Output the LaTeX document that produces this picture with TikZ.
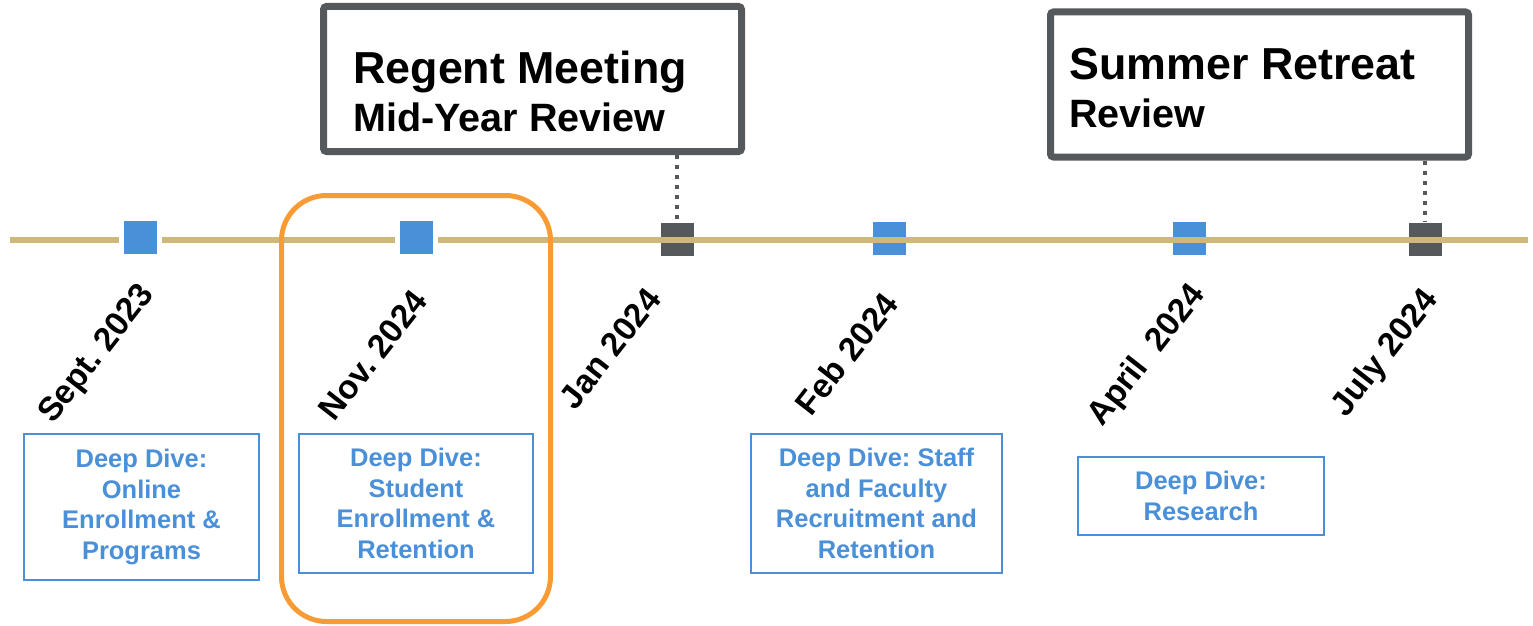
\documentclass[tikz,border=0pt]{standalone}
\usepackage{fontspec}
\setmainfont{Liberation Sans}
\usepackage{tikz}
\definecolor{tlgold}{HTML}{CFB87C}
\definecolor{ddblue}{HTML}{4A90D9}
\definecolor{revgray}{HTML}{55595C}
\definecolor{focusorange}{HTML}{F99B34}
\frenchspacing

\begin{document}
\begin{tikzpicture}
  \useasboundingbox (0,0) rectangle (30.66,-12.5);
  \begin{scope}[every node/.style={inner sep=0pt,minimum size=0.66cm}]
  \node[fill=revgray] (jan) at (13.54,-4.78) {};
  \node[fill=ddblue] (feb) at (17.78,-4.77) {};
  \node[fill=ddblue] (apr) at (23.78,-4.77) {};
  \node[fill=revgray] (jul) at (28.5,-4.78) {};
  \end{scope}
  \coordinate (tlstart) at (0.2,-4.8);
  \coordinate (tlend) at (30.56,-4.8);
  \draw[tlgold,line width=0.12cm] (tlstart) -- (tlend);
  \begin{scope}[every node/.style={inner sep=0pt,minimum size=0.76cm,fill=ddblue,draw=white,line width=0.1cm}]
  \node (sept) at (2.8,-4.75) {};
  \node (nov) at (8.32,-4.75) {};
  \end{scope}
  \node[draw=focusorange,line width=0.1cm,rounded corners=0.9cm,minimum width=5.38cm,minimum height=8.52cm] (focus) at (8.32,-8.17) {};
  \begin{scope}[every node/.style={draw=revgray,line width=0.14cm,rounded corners=0.06cm,minimum width=8.36cm,minimum height=2.9cm}]
  \node (regent) at (10.65,-1.58) {};
  \node (summer) at (25.19,-1.69) {};
  \end{scope}
  \begin{scope}[every node/.style={anchor=north west,inner sep=0pt,align=left,font=\fontsize{25.5}{27}\selectfont\bfseries}]
  \node (regenttxt) at (7.06,-1.02) {Regent Meeting\\\fontsize{22.5}{27}\selectfont Mid-Year Review};
  \node (summertxt) at (21.38,-0.96) {Summer Retreat\\\fontsize{22.5}{27}\selectfont Review};
  \end{scope}
  \draw[revgray,line width=0.09cm,dash pattern=on 0.08cm off 0.12cm] (jan.north |- regent.south) -- (jan.north);
  \draw[revgray,line width=0.09cm,dash pattern=on 0.08cm off 0.12cm] (jul.north |- summer.south) -- (jul.north);
  \begin{scope}[every node/.style={rotate=52,inner sep=0pt,font=\fontsize{19}{20}\selectfont\bfseries}]
  \node (septlbl) at (1.95,-7.09) {Sept. 2023};
  \node (novlbl) at (7.46,-7.1) {Nov. 2024};
  \node (janlbl) at (12.2,-6.97) {Jan 2024};
  \node (feblbl) at (16.93,-7.07) {Feb 2024};
  \node (aprlbl) at (22.95,-7.12) {April\ \ 2024};
  \node (jullbl) at (27.72,-7.08) {July 2024};
  \end{scope}
  \begin{scope}[every node/.style={draw=ddblue,line width=0.03cm,text=ddblue,align=center,inner sep=0pt,font=\fontsize{14.5}{17.5}\selectfont\bfseries}]
  \node[minimum width=4.7cm,minimum height=2.92cm] (ddonline) at (2.83,-10.14)
       {Deep Dive:\\Online\\Enrollment \&\\Programs};
  \node[minimum width=4.68cm,minimum height=2.78cm] (ddstudent) at (8.32,-10.07)
       {Deep Dive:\\Student\\Enrollment \&\\Retention};
  \node[minimum width=5.02cm,minimum height=2.78cm] (ddstaff) at (17.53,-10.07)
       {Deep Dive: Staff\\and Faculty\\Recruitment and\\Retention};
  \node[minimum width=4.92cm,minimum height=1.56cm] (ddresearch) at (24.02,-9.92)
       {Deep Dive:\\Research};
  \end{scope}
\end{tikzpicture}
\end{document}
